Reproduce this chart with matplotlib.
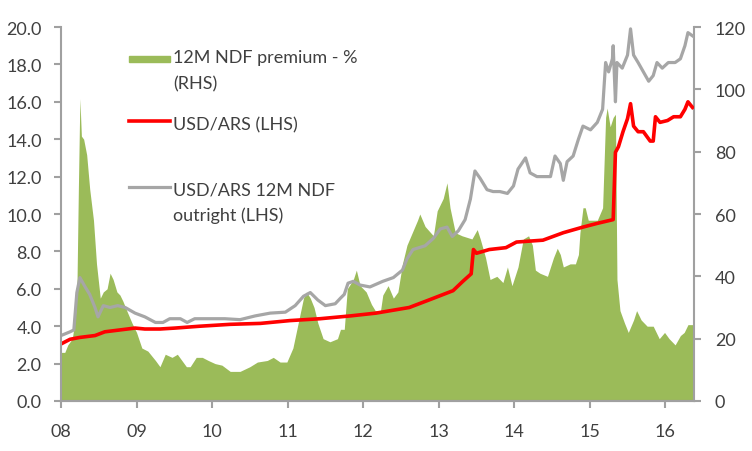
import matplotlib
matplotlib.use("Agg")
import matplotlib.pyplot as plt
from matplotlib.lines import Line2D
from matplotlib.patches import Rectangle

plt.rcParams['font.family'] = ['Lato', 'DejaVu Sans']

# 12M NDF premium - % (RHS), decimal years
prem_t = [2008.00, 2008.05, 2008.09, 2008.15, 2008.19, 2008.21, 2008.23, 2008.25, 2008.27, 2008.30,
          2008.34, 2008.38, 2008.43, 2008.47, 2008.52, 2008.56, 2008.61, 2008.65, 2008.69, 2008.74,
          2008.78, 2008.82, 2008.87, 2008.94, 2009.00, 2009.07, 2009.15, 2009.25, 2009.31, 2009.38,
          2009.47, 2009.54, 2009.60, 2009.66, 2009.71, 2009.79, 2009.87, 2009.95, 2010.04, 2010.13,
          2010.24, 2010.37, 2010.50, 2010.60, 2010.73, 2010.81, 2010.90, 2010.99, 2011.07, 2011.14,
          2011.21, 2011.25, 2011.30, 2011.35, 2011.40, 2011.47, 2011.56, 2011.66, 2011.70, 2011.75,
          2011.79, 2011.87, 2011.91, 2011.96, 2012.04, 2012.11, 2012.16, 2012.23, 2012.26, 2012.33,
          2012.40, 2012.46, 2012.52, 2012.58, 2012.65, 2012.72, 2012.75, 2012.82, 2012.93, 2012.98,
          2013.06, 2013.11, 2013.15, 2013.22, 2013.31, 2013.44, 2013.51, 2013.55, 2013.62, 2013.68,
          2013.77, 2013.85, 2013.91, 2013.97, 2014.05, 2014.12, 2014.19, 2014.24, 2014.28, 2014.34,
          2014.44, 2014.52, 2014.57, 2014.61, 2014.65, 2014.74, 2014.81, 2014.85, 2014.87, 2014.91,
          2014.94, 2014.98, 2015.10, 2015.17, 2015.21, 2015.23, 2015.27, 2015.31, 2015.34, 2015.36,
          2015.40, 2015.46, 2015.51, 2015.58, 2015.62, 2015.68, 2015.76, 2015.84, 2015.92, 2015.99,
          2016.05, 2016.13, 2016.20, 2016.25, 2016.30, 2016.37]
prem_v = [15.6, 15.6, 18, 20, 27, 35, 68, 97, 85, 84,
          79, 68, 58, 44, 33, 35, 36, 41, 39, 35,
          34, 32, 29, 25, 22, 17, 16, 13, 11, 15,
          14, 15, 13, 11, 11, 14, 14, 13, 12, 11.5,
          9.5, 9.5, 11, 12.5, 13, 14, 12.5, 12.5, 17, 25,
          33, 35, 33, 30, 25, 20, 19, 20, 23, 23,
          36, 39, 42, 37, 35, 31, 29, 29, 34, 37,
          33, 35, 44, 50, 54, 58, 60, 56, 53, 61,
          65, 70, 62, 54, 53, 52, 55, 52, 46, 39,
          40, 38, 43, 37, 43, 52, 53, 50, 42, 41,
          40, 46, 49, 47, 43, 44, 44, 47, 54, 62,
          62, 58, 58, 62, 91, 94, 88, 91, 92, 39,
          29, 25, 22, 26, 29, 26, 24, 24, 20, 22,
          20, 18, 21, 22, 24.5, 24.5]

# USD/ARS (LHS)
spot_t = [2008.00, 2008.12, 2008.25, 2008.45, 2008.58, 2008.78, 2008.98, 2009.11, 2009.31, 2009.51,
          2009.84, 2010.24, 2010.64, 2011.03, 2011.43, 2011.83, 2012.17, 2012.61, 2012.87, 2013.19,
          2013.32, 2013.43, 2013.46, 2013.50, 2013.67, 2013.89, 2014.03, 2014.38, 2014.65, 2014.91,
          2015.10, 2015.31, 2015.34, 2015.38, 2015.44, 2015.50, 2015.54, 2015.58, 2015.64, 2015.71,
          2015.80, 2015.84, 2015.87, 2015.93, 2016.03, 2016.11, 2016.20, 2016.26, 2016.30, 2016.36]
spot_v = [3.05, 3.3, 3.4, 3.5, 3.7, 3.8, 3.9, 3.85, 3.85, 3.9,
          4.0, 4.1, 4.15, 4.3, 4.4, 4.55, 4.7, 5.0, 5.4, 5.9,
          6.4, 6.8, 8.1, 7.9, 8.1, 8.2, 8.5, 8.6, 9.0, 9.3,
          9.5, 9.7, 13.3, 13.6, 14.4, 15.1, 15.9, 14.7, 14.4, 14.4,
          13.9, 13.9, 15.2, 14.9, 15.0, 15.2, 15.2, 15.6, 16.0, 15.7]

# USD/ARS 12M NDF outright (LHS)
ndf_t = [2008.00, 2008.12, 2008.17, 2008.21, 2008.25, 2008.32, 2008.38, 2008.45, 2008.49, 2008.56,
         2008.65, 2008.75, 2008.85, 2008.98, 2009.11, 2009.25, 2009.35, 2009.44, 2009.58, 2009.67,
         2009.77, 2009.97, 2010.17, 2010.37, 2010.57, 2010.77, 2010.97, 2011.10, 2011.21, 2011.30,
         2011.40, 2011.50, 2011.63, 2011.70, 2011.75, 2011.80, 2011.87, 2011.96, 2012.09, 2012.26,
         2012.40, 2012.52, 2012.58, 2012.66, 2012.82, 2012.93, 2013.02, 2013.11, 2013.18, 2013.26,
         2013.35, 2013.42, 2013.48, 2013.55, 2013.64, 2013.72, 2013.81, 2013.91, 2013.99, 2014.05,
         2014.15, 2014.21, 2014.30, 2014.38, 2014.48, 2014.54, 2014.61, 2014.65, 2014.70, 2014.78,
         2014.85, 2014.91, 2015.01, 2015.10, 2015.17, 2015.21, 2015.25, 2015.30, 2015.31, 2015.34,
         2015.36, 2015.43, 2015.50, 2015.54, 2015.58, 2015.64, 2015.71, 2015.78, 2015.84, 2015.89,
         2015.96, 2016.04, 2016.13, 2016.20, 2016.26, 2016.30, 2016.37]
ndf_v = [3.5, 3.7, 3.8, 5.8, 6.6, 6.1, 5.7, 5.0, 4.5, 5.1,
         5.0, 5.1, 5.0, 4.7, 4.5, 4.2, 4.2, 4.4, 4.4, 4.2,
         4.4, 4.4, 4.4, 4.35, 4.55, 4.7, 4.75, 5.1, 5.6, 5.8,
         5.4, 5.1, 5.2, 5.5, 5.7, 6.3, 6.4, 6.2, 6.1, 6.4,
         6.6, 7.0, 7.6, 8.1, 8.3, 8.7, 9.2, 9.3, 8.8, 9.1,
         9.7, 10.8, 12.3, 11.9, 11.3, 11.2, 11.2, 11.1, 11.5, 12.4,
         13.0, 12.2, 12.0, 12.0, 12.0, 13.1, 12.7, 11.8, 12.8, 13.1,
         14.0, 14.7, 14.5, 14.9, 15.6, 18.1, 17.6, 18.3, 19.0, 16.0,
         18.1, 17.8, 18.5, 19.9, 18.5, 18.1, 17.6, 17.1, 17.4, 18.1,
         17.8, 18.1, 18.1, 18.3, 19.0, 19.7, 19.5]

years = list(range(2008, 2017))
year_labels = ['08', '09', '10', '11', '12', '13', '14', '15', '16']

green = '#9BBB59'
red = '#FF0000'
grey = '#A6A6A6'
txt = '#404040'
axis_grey = '#A0A0A0'

fig = plt.figure(figsize=(7.52, 4.52), dpi=100)
ax = fig.add_axes([61 / 752, 1 - 402 / 452, (694 - 61) / 752, (402 - 28) / 452])
ax2 = ax.twinx()
ax.set_zorder(ax2.get_zorder() + 1)
ax.patch.set_visible(False)

ax2.fill_between(prem_t, prem_v, 0, color=green, linewidth=0)
ax.plot(ndf_t, ndf_v, color=grey, linewidth=2.3)
ax.plot(spot_t, spot_v, color=red, linewidth=2.6)

ax.set_xlim(2008.0, 2016.38)
ax.set_ylim(0, 20)
ax2.set_ylim(0, 120)
ax.set_yticks([0, 2, 4, 6, 8, 10, 12, 14, 16, 18, 20])
ax.set_yticklabels([f'{v:.1f}' for v in ax.get_yticks()])
ax2.set_yticks([0, 20, 40, 60, 80, 100, 120])
ax.set_xticks(years)
ax.set_xticklabels(year_labels)

for a in (ax, ax2):
    a.spines['top'].set_visible(False)
    for s in ('left', 'right', 'bottom'):
        a.spines[s].set_color(axis_grey)
        a.spines[s].set_linewidth(1.5)
    a.tick_params(direction='out', length=5, width=1.5, color=axis_grey,
                  labelcolor=txt, labelsize=13)
ax.spines['right'].set_visible(False)
ax2.spines['left'].set_visible(False)
ax.tick_params(axis='y', pad=9)
ax.tick_params(axis='x', pad=11)
ax2.tick_params(axis='y', pad=10)

# legend drawn in pixel positions of the reference
def fx(x):
    return x / 752

def fy(y):
    return 1 - y / 452

fig.patches.append(Rectangle((fx(129), fy(63)), fx(170) - fx(129), fy(57) - fy(63),
                             transform=fig.transFigure, color=green))
fig.lines.append(Line2D([fx(129), fx(170)], [fy(122), fy(122)], transform=fig.transFigure,
                        color=red, linewidth=2.6))
fig.lines.append(Line2D([fx(129), fx(170)], [fy(188), fy(188)], transform=fig.transFigure,
                        color=grey, linewidth=2.3))
leg_lines = [('12M NDF premium - %', 58), ('(RHS)', 84), ('USD/ARS (LHS)', 125),
             ('USD/ARS 12M NDF', 191), ('outright (LHS)', 216)]
for s, y in leg_lines:
    fig.text(fx(173), fy(y), s, color=txt, fontsize=13, va='center', ha='left')

fig.savefig('out.png', dpi=100)
